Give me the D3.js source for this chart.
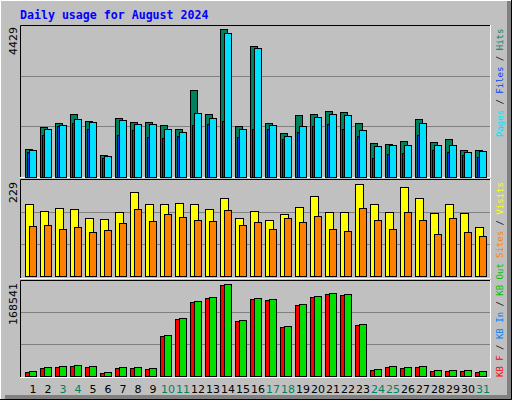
<!DOCTYPE html>
<html><head><meta charset="utf-8">
<script src="https://cdn.jsdelivr.net/npm/d3@7"></script>
<style>body{margin:0;background:#fff}svg{display:block}</style>
</head><body>
<script>
var days = d3.range(1, 32);
var weekend = [3,4,10,11,17,18,24,25,31];
var hits  = [812,1462,1565,1831,1624,620,1713,1595,1595,1506,1388,2540,1831,4341,1477,3839,1565,1270,1801,1831,1919,1890,1565,975,945,1034,1683,1004,1093,768,768];
var files = [768,1388,1506,1683,1595,591,1654,1536,1536,1388,1299,1860,1713,4223,1388,3780,1506,1181,1477,1742,1831,1801,1358,886,915,915,1565,915,915,709,738];
var pages = [709,1211,1477,1565,1388,532,1211,1358,1152,1122,1181,1506,1536,1624,1152,1388,1388,1093,1299,1477,1536,1388,1181,532,650,679,1211,768,709,620,561];
var visits = [172,155,162,160,138,136,153,200,172,172,176,172,160,186,138,155,134,148,165,191,153,153,219,172,153,212,186,150,172,150,117];
var sites  = [119,122,112,117,105,110,126,160,131,148,141,134,131,157,122,129,114,138,129,145,114,107,162,134,112,153,134,100,138,105,95];
var kbOut = [7806,14902,16676,18450,16676,6032,14902,14902,13128,71670,101828,131986,139082,162144,98280,137308,135534,87636,126664,140856,146178,144404,91184,11354,16676,14902,16676,9580,9580,9580,7806];
var kbF   = [7200,14000,16000,17800,16000,5600,14300,14300,12700,70000,100000,130300,137300,160400,96600,135600,133800,86000,125000,139100,144500,142700,89500,10800,16000,14300,16000,9000,9000,9000,7200];
var maxTop = 4429, maxMid = 229, maxBot = 168541;

var svg = d3.select("body").append("svg").attr("width", 512).attr("height", 400)
  .style("font-family", "DejaVu Sans Mono, monospace");

// frame
svg.append("rect").attr("width", 512).attr("height", 400).attr("fill", "#c0c0c0");
svg.append("path").attr("d", "M507,5V395H5V400H512V0H507Z").attr("fill", "#808080");
svg.append("path").attr("d", "M0.5,400V0.5H511.5").attr("fill", "none").attr("stroke", "#fff");
svg.append("path").attr("d", "M511.5,0V399.5H0").attr("fill", "none").attr("stroke", "#000");

svg.append("text").attr("x", 20).attr("y", 19).attr("fill", "#0000ff")
  .attr("font-size", 11.6).attr("font-weight", "bold").text("Daily usage for August 2024");

var x = d3.scaleLinear().domain([1, 31]).range([25, 475]);

function panel(y0, y1) {
  svg.append("path").attr("d", "M20.5," + y1 + "V" + (y0 + 0.5) + "H490")
    .attr("fill", "none").attr("stroke", "#000");
  svg.append("path").attr("d", "M20," + (y1 + 0.5) + "H490.5V" + y0)
    .attr("fill", "none").attr("stroke", "#fff");
}
function grid(y) {
  [1 / 3, 2 / 3].forEach(function (f) {
    var yy = Math.round(y.range()[0] - f * (y.range()[0] - y.range()[1])) + 0.5;
    svg.append("line").attr("x1", 21).attr("x2", 490).attr("y1", yy).attr("y2", yy)
      .attr("stroke", "#808080");
  });
}
function bars(vals, y, dx, w, color) {
  svg.append("g").selectAll("rect").data(vals).enter().append("rect")
    .attr("x", function (d, i) { return x(days[i]) + dx + 0.5; })
    .attr("y", function (d) { return Math.round(y(d)) + 0.5; })
    .attr("width", w)
    .attr("height", function (d) { return Math.round(y(0)) - Math.round(y(d)); })
    .attr("fill", color).attr("stroke", "#000");
}
function yLabel(txt, y) {
  svg.append("text").attr("transform", "translate(17," + y + ") rotate(-90)")
    .attr("text-anchor", "end").attr("font-size", 11).attr("font-family", "DejaVu Sans")
    .attr("fill", "#000").text(txt);
}
function sideLabel(parts, yStart) {
  var t = svg.append("text").attr("transform", "translate(503," + yStart + ") rotate(-90)")
    .attr("font-size", 9);
  parts.forEach(function (p) { t.append("tspan").attr("fill", p[1]).text(p[0]); });
}

// top panel
panel(25, 177);
var yTop = d3.scaleLinear().domain([0, maxTop]).range([176.5, 26]);
grid(yTop);
bars(hits, yTop, 0, 7, "#00805c");
bars(pages, yTop, 2, 6, "#0040ff");
bars(files, yTop, 4, 7, "#00e0ff");
yLabel("4429", 27);
sideLabel([["Pages", "#00e0ff"], [" / ", "#000"], ["Files", "#0040ff"], [" / ", "#000"], ["Hits", "#00805c"]], 137);

// middle panel
panel(179, 278);
var yMid = d3.scaleLinear().domain([0, maxMid]).range([276.3, 180.3]);
grid(yMid);
bars(visits, yMid, 0, 8, "#ffff00");
bars(sites, yMid, 4, 7, "#ff8000");
yLabel("229", 182);
sideLabel([["Sites", "#ff8000"], [" / ", "#000"], ["Visits", "#ffff00"]], 258);

// bottom panel
panel(280, 377);
var yBot = d3.scaleLinear().domain([0, maxBot]).range([375.7, 280.7]);
grid(yBot);
bars(kbF, yBot, 0, 8, "#ff0000");
bars(kbOut, yBot, 4, 7, "#00e000");
yLabel("168541", 283);
sideLabel([["KB F", "#ff0000"], [" / ", "#000"], ["KB In", "#0080ff"], [" / ", "#000"], ["KB Out", "#00c000"]], 377);

// day labels
svg.append("g").selectAll("text").data(days).enter().append("text")
  .attr("x", function (d) { return x(d) + 8; }).attr("y", 393)
  .attr("text-anchor", "middle").attr("font-size", 11).attr("font-family", "DejaVu Sans")
  .attr("fill", function (d) { return weekend.indexOf(d) >= 0 ? "#00805c" : "#000"; })
  .text(function (d) { return d; });
</script>
</body></html>
